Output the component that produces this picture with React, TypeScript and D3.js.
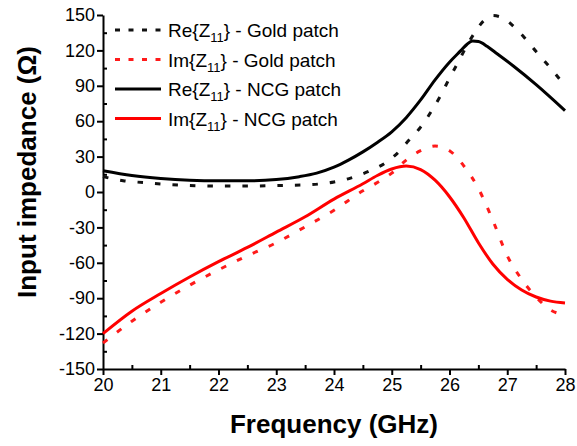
import React, { useEffect, useRef } from 'react';
import * as d3 from 'd3';

// Re{Z11} - Gold patch
const reGoldFreq = [20, 20.35, 20.7, 21, 21.5, 22, 22.5, 23, 23.5, 24, 24.3, 24.6, 24.9, 25.1, 25.3, 25.5, 25.7, 25.85, 26, 26.15, 26.3, 26.45, 26.6, 26.75, 26.9, 27.2, 27.5, 27.75, 28];
const reGoldVal = [13, 9.5, 8, 6.8, 5.5, 5, 5, 5.5, 6, 8.5, 12, 17.5, 25, 33, 44, 55, 69.5, 82, 96.5, 110, 124, 136, 145.5, 149.5, 148, 136, 119, 105, 90];

// Im{Z11} - Gold patch
const imGoldFreq = [20, 20.5, 21, 21.5, 22, 22.5, 23, 23.5, 24, 24.5, 24.75, 25, 25.25, 25.5, 25.75, 26, 26.25, 26.5, 26.75, 27, 27.25, 27.5, 27.75, 28];
const imGoldVal = [-128, -109.5, -93.5, -79, -66, -54, -43, -29.5, -15.5, 1, 8, 16, 27, 35, 39, 35, 22, 3, -24, -54, -74, -89, -100, -104];

// Re{Z11} - NCG patch
const reNcgFreq = [20, 20.5, 21, 21.5, 22, 22.5, 23, 23.4, 23.7, 24, 24.25, 24.5, 24.75, 25, 25.25, 25.5, 25.75, 26, 26.2, 26.3, 26.4, 26.5, 26.65, 26.8, 27.1, 27.5, 28];
const reNcgVal = [18, 14, 11.5, 10, 9.5, 9.5, 10.5, 13, 16, 21, 27, 34, 42, 51, 63, 78, 95, 110, 120, 125, 128, 127.5, 123.5, 118, 107, 91, 69];

// Im{Z11} - NCG patch
const imNcgFreq = [20, 20.5, 21, 21.5, 22, 22.5, 23, 23.5, 24, 24.5, 24.75, 25, 25.25, 25.5, 25.75, 26, 26.25, 26.5, 26.75, 27, 27.25, 27.5, 27.75, 28];
const imNcgVal = [-120, -101, -86, -72, -59, -47, -34, -21, -6, 7, 14, 19.5, 22, 19, 10, -4, -22, -43, -61, -74, -83, -89, -92.5, -94];

const xTicks = [20, 21, 22, 23, 24, 25, 26, 27, 28];
const yTicks = [-150, -120, -90, -60, -30, 0, 30, 60, 90, 120, 150];

const series = [
  { name: 'Re', label: 'Gold patch', freq: reGoldFreq, val: reGoldVal, color: '#111', dash: true },
  { name: 'Im', label: 'Gold patch', freq: imGoldFreq, val: imGoldVal, color: '#ff1a1a', dash: true },
  { name: 'Re', label: 'NCG patch', freq: reNcgFreq, val: reNcgVal, color: '#000', dash: false },
  { name: 'Im', label: 'NCG patch', freq: imNcgFreq, val: imNcgVal, color: '#ff0000', dash: false },
];

const FONT = 'Liberation Sans, Arial, sans-serif';

export default function App() {
  const ref = useRef<SVGSVGElement>(null);

  useEffect(() => {
    const width = 577;
    const height = 446;
    const margin = { top: 15, right: 12, bottom: 77, left: 103 };
    const innerWidth = width - margin.left - margin.right;
    const innerHeight = height - margin.top - margin.bottom;

    const root = d3.select(ref.current);
    root.selectAll('*').remove();
    const svg = root.append('g').attr('transform', `translate(${margin.left}, ${margin.top})`);

    const xScale = d3.scaleLinear().domain([20, 28]).range([0, innerWidth]);
    const yScale = d3.scaleLinear().domain([-150, 150]).range([innerHeight, 0]);

    // minor ticks (inward)
    const xMinor = d3.range(20.5, 28, 1);
    const yMinor = d3.range(-135, 150, 30);

    svg.append('g')
      .attr('transform', `translate(0, ${innerHeight})`)
      .call(d3.axisTop(xScale).tickValues(xMinor).tickSize(4).tickFormat(() => ''))
      .call(g => g.select('.domain').remove())
      .selectAll('line').attr('stroke-width', 2);

    svg.append('g')
      .call(d3.axisRight(yScale).tickValues(yMinor).tickSize(4).tickFormat(() => ''))
      .call(g => g.select('.domain').remove())
      .selectAll('line').attr('stroke-width', 2);

    // major axes
    const xAxis = svg.append('g')
      .attr('transform', `translate(0, ${innerHeight})`)
      .call(d3.axisBottom(xScale).tickValues(xTicks).tickSize(6).tickSizeOuter(0).tickPadding(3).tickFormat(d3.format('d')));
    const yAxis = svg.append('g')
      .call(d3.axisLeft(yScale).tickValues(yTicks).tickSize(6).tickSizeOuter(0).tickPadding(2).tickFormat(d3.format('d')));

    [xAxis, yAxis].forEach(ax => {
      ax.select('.domain').attr('stroke-width', 2);
      ax.selectAll('line').attr('stroke-width', 2);
      ax.selectAll('text')
        .attr('font-family', FONT)
        .attr('font-size', 18)
        .attr('fill', '#000');
    });
    yAxis.selectAll('text').text((d: any) => (d < 0 ? '-' + Math.abs(d) : String(d)));

    // lines
    const line = d3.line<[number, number]>()
      .x(d => xScale(d[0]))
      .y(d => yScale(d[1]))
      .curve(d3.curveMonotoneX);

    series.forEach(s => {
      const pts = s.freq.map((f, i) => [f, s.val[i]] as [number, number]);
      svg.append('path')
        .datum(pts)
        .attr('d', line)
        .attr('fill', 'none')
        .attr('stroke', s.color)
        .attr('stroke-width', 3)
        .attr('stroke-dasharray', s.dash ? '5.5,12' : null);
    });

    // legend
    const legend = svg.append('g').attr('transform', 'translate(12, 15)');
    const item = legend.selectAll('.legend-item')
      .data(series)
      .join('g')
      .attr('class', 'legend-item')
      .attr('transform', (d, i) => `translate(0, ${i * 29.5})`);

    item.append('line')
      .attr('x1', 0).attr('x2', 46)
      .attr('y1', 0).attr('y2', 0)
      .attr('stroke', d => d.color)
      .attr('stroke-width', 3)
      .attr('stroke-dasharray', d => (d.dash ? '5,8.5' : null));

    const txt = item.append('text')
      .attr('x', 53)
      .attr('y', 7)
      .attr('font-family', FONT)
      .attr('font-size', 19)
      .attr('fill', '#000');
    txt.append('tspan').text(d => `${d.name}{Z`);
    txt.append('tspan').attr('font-size', 13).attr('dy', 5).text('11');
    txt.append('tspan').attr('dy', -5).text(d => `} - ${d.label}`);

    // axis titles
    svg.append('text')
      .attr('transform', `translate(${-67}, ${157}) rotate(-90)`)
      .attr('text-anchor', 'middle')
      .attr('font-family', FONT)
      .attr('font-size', 26)
      .attr('font-weight', 'bold')
      .text('Input impedance (Ω)');

    svg.append('text')
      .attr('x', innerWidth / 2)
      .attr('y', innerHeight + 64)
      .attr('text-anchor', 'middle')
      .attr('font-family', FONT)
      .attr('font-size', 26)
      .attr('font-weight', 'bold')
      .text('Frequency (GHz)');
  }, []);

  return (
    <svg ref={ref} width={577} height={446}
      style={{ position: 'absolute', left: 0, top: 0, background: '#fff' }} />
  );
}
